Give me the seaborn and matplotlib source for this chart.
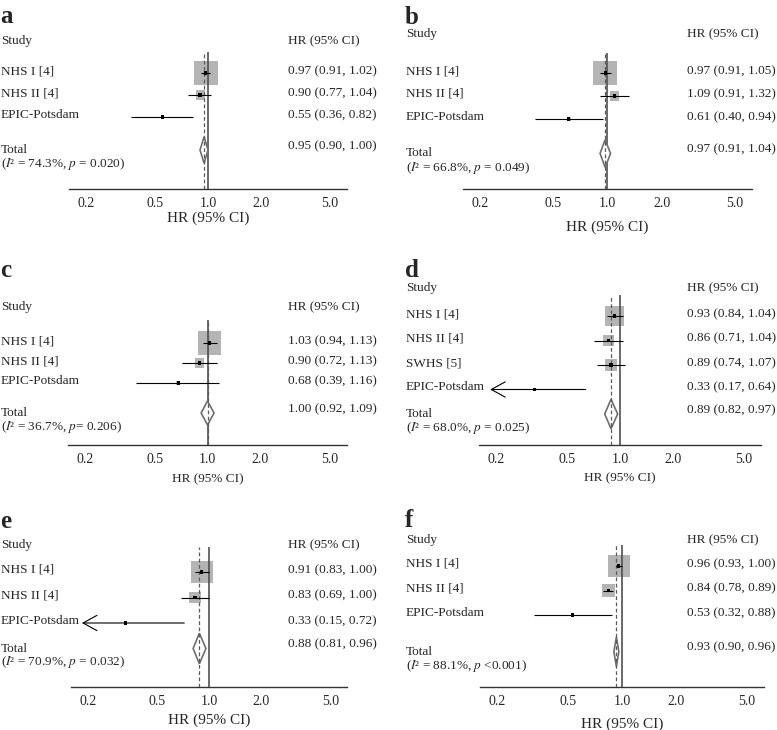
import numpy as np
import pandas as pd
import matplotlib.pyplot as plt
import matplotlib.transforms as mtransforms
from matplotlib.ticker import NullLocator
import seaborn as sns

# ---- data ----
studies_3 = ["NHS I [4]", "NHS II [4]", "EPIC-Potsdam"]
studies_4 = ["NHS I [4]", "NHS II [4]", "SWHS [5]", "EPIC-Potsdam"]

hr_a = [0.97, 0.90, 0.55]
lo_a = [0.91, 0.77, 0.36]
hi_a = [1.02, 1.04, 0.82]
w_a = [86, 12.5, 1.5]
tot_a = [0.95, 0.90, 1.00]

hr_b = [0.97, 1.09, 0.61]
lo_b = [0.91, 0.91, 0.40]
hi_b = [1.05, 1.32, 0.94]
w_b = [85, 12.5, 2.5]
tot_b = [0.97, 0.91, 1.04]

hr_c = [1.03, 0.90, 0.68]
lo_c = [0.94, 0.72, 0.39]
hi_c = [1.13, 1.13, 1.16]
w_c = [83, 14.5, 2.5]
tot_c = [1.00, 0.92, 1.09]

hr_d = [0.93, 0.86, 0.89, 0.33]
lo_d = [0.84, 0.71, 0.74, 0.17]
hi_d = [1.04, 1.04, 1.07, 0.64]
w_d = [60, 19, 19.5, 1.5]
tot_d = [0.89, 0.82, 0.97]

hr_e = [0.91, 0.83, 0.33]
lo_e = [0.83, 0.69, 0.15]
hi_e = [1.00, 1.00, 0.72]
w_e = [79, 20, 1]
tot_e = [0.88, 0.81, 0.96]

hr_f = [0.96, 0.84, 0.53]
lo_f = [0.93, 0.78, 0.32]
hi_f = [1.00, 0.89, 0.88]
w_f = [76.5, 23, 0.5]
tot_f = [0.93, 0.90, 0.96]

het_a = r"($I$² = 74.3%, $p$ = 0.020)"
het_b = r"($I$² = 66.8%, $p$ = 0.049)"
het_c = r"($I$² = 36.7%, $p$= 0.206)"
het_d = r"($I$² = 68.0%, $p$ = 0.025)"
het_e = r"($I$² = 70.9%, $p$ = 0.032)"
het_f = r"($I$² = 88.1%, $p$ <0.001)"

xticks = [0.2, 0.5, 1.0, 2.0, 5.0]
xtick_labels = ["0.2", "0.5", "1.0", "2.0", "5.0"]

# ---- style ----
sns.set_style("white")
plt.rcParams["font.family"] = ["Liberation Serif", "DejaVu Serif"]
plt.rcParams["mathtext.fontset"] = "stix"

W, H = 777, 730
XMIN, XMAX = 0.16, 6.25
CI_FLOOR = 0.185      # CIs below this get an arrow
BOX_PX = 25.5         # side of a 100% weight box, pixels
FS = 9.5

fig = plt.figure(figsize=(W / 100, H / 100), dpi=100)

# panel geometry in pixels (top-left origin)
layout = {
    "a": dict(x0=0, xs=1, xh=288, L=69, R=347, T=52, B=189, r1=73, dr=22, gap=1.5, head=41, let=23, xl=218, xlfs=11),
    "b": dict(x0=405, xs=406, xh=687, L=463, R=752, T=53, B=189, r1=73, dr=23, gap=1.5, head=34, let=24, xl=227, xlfs=11),
    "c": dict(x0=0, xs=1, xh=288, L=68, R=347, T=320, B=445, r1=343, dr=20, gap=1.5, head=307, let=277, xl=479, xlfs=9.5),
    "d": dict(x0=405, xs=406, xh=687, L=479, R=761, T=295, B=445, r1=316, dr=24.5, gap=1, head=288, let=277, xl=478, xlfs=9.5),
    "e": dict(x0=0, xs=1, xh=288, L=71, R=347, T=547, B=687, r1=572, dr=25.5, gap=1, head=545, let=528, xl=720, xlfs=11),
    "f": dict(x0=405, xs=406, xh=687, L=480, R=764, T=545, B=687, r1=566, dr=24.5, gap=1.5, head=540, let=527, xl=724, xlfs=11),
}


def draw_panel(letter, studies, hr, lo, hi, wt, tot, het):
    lay = layout[letter]
    L, R, T, B = lay["L"], lay["R"], lay["T"], lay["B"]
    r1, dr = lay["r1"], lay["dr"]
    ax = fig.add_axes([L / W, 1 - B / H, (R - L) / W, (B - T) / H])
    ax.set_xscale("log")
    ax.set_xlim(XMIN, XMAX)
    ax.set_ylim(1 + (B - r1) / dr, 1 - (r1 - T) / dr)

    df = pd.DataFrame({"study": studies, "hr": hr, "lo": lo, "hi": hi, "w": wt})
    df["row"] = np.arange(1, len(df) + 1)
    ytot = len(df) + lay["gap"]

    # weight boxes
    side_pt = BOX_PX * np.sqrt(df["w"] / 100) * 0.72
    sns.scatterplot(data=df, x="hr", y="row", marker="s", s=side_pt ** 2,
                    color="#b4b4b4", edgecolor="none", linewidth=0,
                    legend=False, ax=ax, zorder=2)

    # reference line
    ax.axvline(1.0, color="#505050", lw=1.2, zorder=2.5)

    # pooled diamond + pooled estimate line
    est, tlo, thi = tot
    h = 0.6
    ax.fill([tlo, est, thi, est], [ytot, ytot - h, ytot, ytot + h],
            facecolor="white", edgecolor="#6e6e6e", lw=1.2, zorder=3)
    ax.axvline(est, color="#5a5a5a", lw=0.9, ls=(0, (3, 2)), zorder=3.5)

    # confidence intervals
    for _, r in df.iterrows():
        if r["lo"] < CI_FLOOR:
            ax.annotate("", xy=(CI_FLOOR, r["row"]), xytext=(r["hi"], r["row"]),
                        arrowprops=dict(arrowstyle="->,head_length=1.0,head_width=0.55",
                                        lw=0.8, color="black", shrinkA=0, shrinkB=0),
                        zorder=4)
        else:
            ax.hlines(r["row"], r["lo"], r["hi"], color="black", lw=0.8, zorder=4)

    # point estimates
    sns.scatterplot(data=df, x="hr", y="row", marker="s", s=5, color="black",
                    edgecolor="none", linewidth=0, legend=False, ax=ax, zorder=5)

    # axes styling
    for s in ["top", "left", "right"]:
        ax.spines[s].set_visible(False)
    ax.spines["bottom"].set_color("#333333")
    ax.spines["bottom"].set_linewidth(1.0)
    ax.set_xticks(xticks)
    ax.set_xticklabels(xtick_labels)
    ax.xaxis.set_minor_locator(NullLocator())
    ax.tick_params(axis="x", length=0, pad=6, labelsize=10)
    ax.set_yticks([])
    ax.set_ylabel("")
    ax.set_xlabel("HR (95% CI)", fontsize=lay["xlfs"])
    ax.xaxis.set_label_coords(0.5, -(lay["xl"] - B) / (B - T))
    ax.xaxis.label.set_va("center")

    # text columns
    trans = mtransforms.blended_transform_factory(fig.transFigure, ax.transData)
    xs = lay["xs"] / W
    xh = lay["xh"] / W
    yhead = 1 - (r1 - lay["head"]) / dr
    kw = dict(transform=trans, fontsize=FS, va="center", ha="left", clip_on=False)
    ax.text(xs, yhead, "Study", **kw)
    ax.text(xh, yhead, "HR (95% CI)", **kw)
    for _, r in df.iterrows():
        ax.text(xs, r["row"] - 2 / dr, r["study"], **kw)
        ax.text(xh, r["row"] - 2 / dr,
                f"{r['hr']:.2f} ({r['lo']:.2f}, {r['hi']:.2f})", **kw)
    ax.text(xs, ytot, "Total", **kw)
    ax.text(xs, ytot + 14 / dr, het, **kw)
    ax.text(xh, ytot - 4 / dr, f"{est:.2f} ({tlo:.2f}, {thi:.2f})", **kw)

    fig.text(lay["x0"] / W, 1 - lay["let"] / H, letter, fontsize=18,
             fontweight="bold", va="baseline", ha="left")


draw_panel("a", studies_3, hr_a, lo_a, hi_a, w_a, tot_a, het_a)
draw_panel("b", studies_3, hr_b, lo_b, hi_b, w_b, tot_b, het_b)
draw_panel("c", studies_3, hr_c, lo_c, hi_c, w_c, tot_c, het_c)
draw_panel("d", studies_4, hr_d, lo_d, hi_d, w_d, tot_d, het_d)
draw_panel("e", studies_3, hr_e, lo_e, hi_e, w_e, tot_e, het_e)
draw_panel("f", studies_3, hr_f, lo_f, hi_f, w_f, tot_f, het_f)

fig.savefig("out.png", dpi=100)
